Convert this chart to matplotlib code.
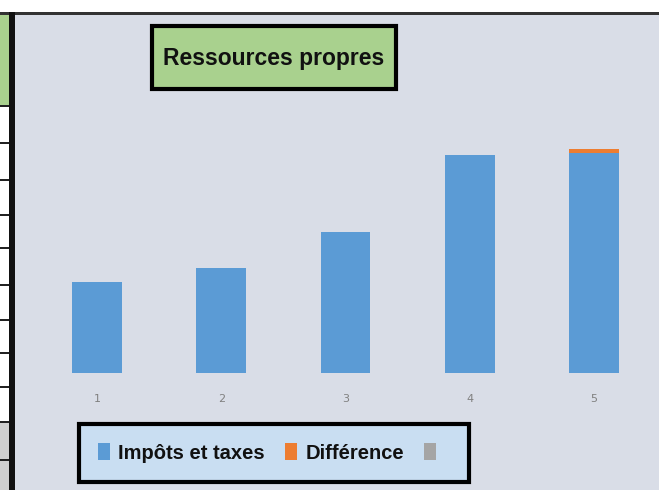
import matplotlib.pyplot as plt
from matplotlib.patches import Rectangle

# data (arbitrary units, no value axis shown)
categories = ['1', '2', '3', '4', '5']
impots = [91, 105, 141, 218, 220]
difference = [0, 0, 0, 0, 4]
autre = [0, 0, 0, 0, 0]

W, H = 659, 490
fig = plt.figure(figsize=(W / 100, H / 100), dpi=100)
fig.patch.set_facecolor('white')

def px_rect(x0, y0, x1, y1, **kw):
    # rectangle in pixel coords (top-left origin)
    r = Rectangle((x0 / W, 1 - y1 / H), (x1 - x0) / W, (y1 - y0) / H,
                  transform=fig.transFigure, **kw)
    fig.patches.append(r)
    return r

# chart area background
px_rect(14, 14, W, H, facecolor='#d9dde7', edgecolor='none', zorder=-2)
# frame lines (top and left)
px_rect(0, 12, W, 15, facecolor='#333333', edgecolor='none', zorder=-1)
px_rect(9, 12, 15, H, facecolor='#111111', edgecolor='none', zorder=-1)

# fragment of the table on the left
px_rect(0, 15, 9, 106, facecolor='#a9d18e', edgecolor='none', zorder=-1)
px_rect(0, 106, 9, 422, facecolor='white', edgecolor='none', zorder=-1)
px_rect(0, 422, 9, H, facecolor='#cfcfcf', edgecolor='none', zorder=-1)
for yy in [106, 143, 180, 215, 248, 285, 320, 353, 387, 422, 460]:
    px_rect(0, yy - 1, 9, yy + 1, facecolor='#222222', edgecolor='none', zorder=-1)

# plot area
ax = fig.add_axes([35 / W, 1 - 373 / H, (656 - 35) / W, (373 - 130) / H])
ax.set_zorder(5)
ax.set_facecolor('none')
x = list(range(len(categories)))
ax.bar(x, impots, width=0.4, color='#5b9bd5', label='Impôts et taxes')
ax.bar(x, difference, width=0.4, bottom=impots, color='#ed7d31', label='Différence')
ax.bar(x, autre, width=0.4, color='#a5a5a5', label=' ')
ax.set_xlim(-0.5, 4.5)
ax.set_ylim(0, 243)
ax.set_xticks(x)
ax.set_xticklabels(categories, color='#808080', fontsize=8)
ax.tick_params(axis='x', length=0, pad=15)
ax.set_yticks([])
for s in ax.spines.values():
    s.set_visible(False)

# title box
px_rect(152, 26, 396, 89, facecolor='#a9d18e', edgecolor='black',
        linewidth=3, zorder=6)
fig.text(274 / W, 1 - 59 / H, 'Ressources propres', ha='center', va='center',
         fontsize=16.5, fontweight='bold', color='#111111',
         family=['Liberation Sans', 'DejaVu Sans'], zorder=7)

# legend
leg = fig.legend(loc='center', bbox_to_anchor=(274 / W, 1 - 453 / H), ncol=3,
                 frameon=True, handlelength=0.6, handleheight=0.9,
                 handletextpad=0.4, columnspacing=1.0, borderpad=0.95,
                 prop=dict(family=['Liberation Sans', 'DejaVu Sans'],
                           weight='bold', size=14.5))
leg.set_zorder(6)
fr = leg.get_frame()
fr.set_facecolor('#c9def2')
fr.set_edgecolor('black')
fr.set_linewidth(3)
fr.set_alpha(1)
fr.set_boxstyle('square', pad=0)
for t in leg.get_texts():
    t.set_color('#111111')

fig.savefig('out.png', dpi=100)
